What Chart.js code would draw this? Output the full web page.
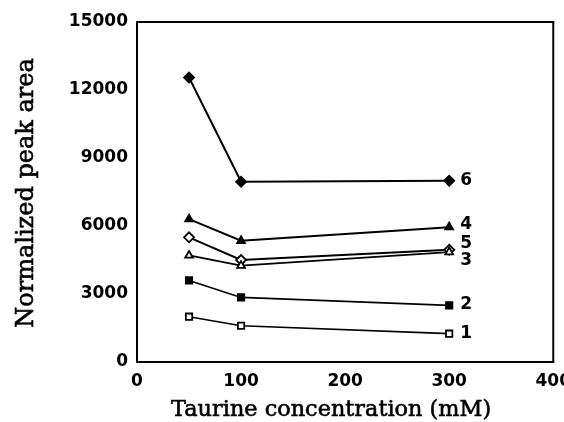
<!DOCTYPE html>
<html>
<head>
<meta charset="utf-8">
<script src="https://cdn.jsdelivr.net/npm/chart.js@4.4.1/dist/chart.umd.min.js"></script>
<style>
  html, body { margin: 0; padding: 0; background: #fff; overflow: hidden; }
  #wrap { width: 580px; height: 422px; }
</style>
</head>
<body>
<div id="wrap"><canvas id="peakChart"></canvas></div>
<script>
// Taurine concentration (mM)
const concentrations = [50, 100, 300];

// normalized peak area per compound
const peak1 = [2000, 1600, 1250];
const peak2 = [3600, 2850, 2500];
const peak3 = [4700, 4250, 4850];
const peak4 = [6300, 5350, 5950];
const peak5 = [5500, 4500, 4950];
const peak6 = [12550, 7950, 8000];

const seriesNames = ['1', '2', '3', '4', '5', '6'];
const yTicks = [0, 3000, 6000, 9000, 12000, 15000];
const xTicks = [0, 100, 200, 300, 400];
const xTitle = 'Taurine concentration (mM)';
const yTitle = 'Normalized peak area';

const tickFont = { family: 'DejaVu Sans', weight: 'bold', size: 17 };

function series(values, name, width, shape, filled, labelDy) {
  return {
    label: name,
    data: concentrations.map((c, i) => ({ x: c, y: values[i] })),
    borderColor: '#000',
    borderWidth: width,
    pointStyle: shape,
    pointRadius: shape === 'rectRot' ? 5 : 4.5,
    pointBorderWidth: 1.8,
    pointBorderColor: '#000',
    pointBackgroundColor: filled ? '#000' : '#fff',
    tension: 0,
    labelDy: labelDy
  };
}

// fit a title into a given length by picking the font size
function fitFont(ctx, text, length, family) {
  ctx.font = `100px ${family}`;
  const size = 100 * length / ctx.measureText(text).width;
  return `${size.toFixed(1)}px ${family}`;
}

// slightly heavier text: fill plus a thin outline
function heavyText(ctx, text, x, y) {
  ctx.fillText(text, x, y);
  ctx.strokeText(text, x, y);
}

// frame, axis titles and the series numbers at the line ends
const framePlugin = {
  id: 'frame',
  afterDraw(chart) {
    const { ctx, chartArea: a } = chart;
    ctx.save();
    ctx.strokeStyle = '#000';
    ctx.lineWidth = 2;
    ctx.strokeRect(a.left, a.top, a.right - a.left, a.bottom - a.top);

    ctx.fillStyle = '#000';
    ctx.font = 'bold 17px "DejaVu Sans"';
    ctx.textAlign = 'left';
    ctx.textBaseline = 'middle';
    chart.data.datasets.forEach((ds, i) => {
      const pts = chart.getDatasetMeta(i).data;
      const last = pts[pts.length - 1];
      ctx.fillText(ds.label, last.x + 11, last.y + (ds.labelDy || 0));
    });

    ctx.lineWidth = 0.6;
    ctx.textAlign = 'center';
    ctx.textBaseline = 'alphabetic';
    ctx.font = fitFont(ctx, xTitle, 320, '"DejaVu Serif"');
    heavyText(ctx, xTitle, (a.left + a.right) / 2 - 14, 416);

    ctx.translate(33, (a.top + a.bottom) / 2 + 1);
    ctx.rotate(-Math.PI / 2);
    ctx.font = fitFont(ctx, yTitle, 270, '"DejaVu Serif"');
    heavyText(ctx, yTitle, 0, 0);
    ctx.restore();
  }
};

new Chart(document.getElementById('peakChart'), {
  type: 'line',
  data: {
    datasets: [
      series(peak1, seriesNames[0], 1.6, 'rect', false, 0),
      series(peak2, seriesNames[1], 1.6, 'rect', true, -1),
      series(peak3, seriesNames[2], 1.8, 'triangle', false, 9),
      series(peak4, seriesNames[3], 2, 'triangle', true, -3),
      series(peak5, seriesNames[4], 2, 'rectRot', false, -6),
      series(peak6, seriesNames[5], 2, 'rectRot', true, 0)
    ]
  },
  options: {
    responsive: true,
    maintainAspectRatio: false,
    animation: false,
    layout: { padding: { left: 0, top: 22, right: 25, bottom: 0 } },
    plugins: {
      legend: { display: false },
      tooltip: { enabled: false }
    },
    scales: {
      x: {
        type: 'linear',
        min: 0,
        max: 400,
        afterBuildTicks(scale) { scale.ticks = xTicks.map(v => ({ value: v })); },
        afterFit(scale) { scale.height = 60; },
        grid: { display: false, drawTicks: false },
        border: { display: false },
        ticks: { color: '#000', font: tickFont, padding: 9, maxRotation: 0, callback: v => String(v) }
      },
      y: {
        min: 0,
        max: 15000,
        afterBuildTicks(scale) { scale.ticks = yTicks.map(v => ({ value: v })); },
        afterFit(scale) { scale.width = 137; },
        grid: { display: false, drawTicks: false },
        border: { display: false },
        ticks: { color: '#000', font: tickFont, padding: 9, callback: v => String(v) }
      }
    }
  },
  plugins: [framePlugin]
});
</script>
</body>
</html>
